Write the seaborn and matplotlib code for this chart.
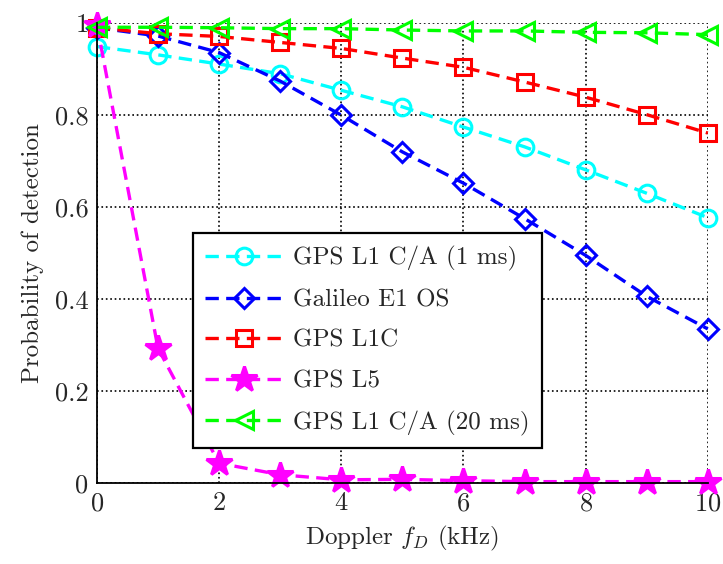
import numpy as np
import pandas as pd
import matplotlib
matplotlib.use("Agg")
import matplotlib.pyplot as plt
import seaborn as sns

doppler = [0, 1, 2, 3, 4, 5, 6, 7, 8, 9, 10]

gps_l1ca_1ms = [0.949, 0.931, 0.911, 0.890, 0.854, 0.818, 0.774, 0.731, 0.681, 0.630, 0.577]
galileo_e1 = [0.990, 0.972, 0.936, 0.874, 0.800, 0.720, 0.652, 0.575, 0.495, 0.406, 0.335]
gps_l1c = [0.990, 0.977, 0.971, 0.958, 0.945, 0.924, 0.904, 0.872, 0.839, 0.801, 0.761]
gps_l5 = [0.997, 0.293, 0.043, 0.018, 0.007, 0.008, 0.005, 0.003, 0.003, 0.003, 0.003]
gps_l1ca_20ms = [0.991, 0.991, 0.990, 0.988, 0.988, 0.985, 0.983, 0.983, 0.980, 0.979, 0.975]

labels = ["GPS L1 C/A (1 ms)", "Galileo E1 OS", "GPS L1C", "GPS L5", "GPS L1 C/A (20 ms)"]
series = [gps_l1ca_1ms, galileo_e1, gps_l1c, gps_l5, gps_l1ca_20ms]
colors = ["#00ffff", "#0000ff", "#ff0000", "#ff00ff", "#00ff00"]
markers = ["o", "D", "s", "*", "<"]
msizes = [12, 10, 12, 19, 13]

sns.set_style("white")
plt.rcParams["font.family"] = ["cmr10", "DejaVu Serif"]
plt.rcParams["mathtext.fontset"] = "cm"
plt.rcParams["axes.formatter.use_mathtext"] = True

fig = plt.figure(figsize=(7.23, 5.64), dpi=100)
ax = fig.add_axes([0.134, 0.1436, 0.845, 0.8154])

for lab, vals, col, mk, ms in zip(labels, series, colors, markers, msizes):
    df = pd.DataFrame({"x": doppler, "y": vals})
    face = col if mk == "*" else "none"
    sns.lineplot(data=df, x="x", y="y", ax=ax, color=col, linestyle=(0, (4, 2.2)),
                 linewidth=2.4, marker=mk, markersize=ms, markerfacecolor=face,
                 markeredgecolor=col, markeredgewidth=2.2, label=lab, clip_on=False)

ax.set_xlim(0, 10)
ax.set_ylim(0, 1)
ax.set_xticks([0, 2, 4, 6, 8, 10])
ax.set_yticks([0, 0.2, 0.4, 0.6, 0.8, 1.0])
ax.set_yticklabels(["0", "0.2", "0.4", "0.6", "0.8", "1"])
ax.grid(True, color="black", linestyle=":", linewidth=1.2)
ax.tick_params(direction="in", labelsize=19, length=4, color="black", pad=6)
for side in ["top", "right"]:
    ax.spines[side].set_visible(False)
for side in ["left", "bottom"]:
    ax.spines[side].set_color("black")
    ax.spines[side].set_linewidth(1.3)

ax.set_xlabel("Doppler $f_D$ (kHz)", fontsize=18, labelpad=6)
ax.set_ylabel("Probability of detection", fontsize=18, labelpad=8)

# legend box placed where the original sits (lower left of centre)
leg = ax.legend(loc="lower left", bbox_to_anchor=(0.157, 0.076), borderaxespad=0,
                fontsize=18, handlelength=3.1, frameon=True, fancybox=False,
                framealpha=1, borderpad=0.5, labelspacing=0.72, handletextpad=0.4)
leg.get_frame().set_edgecolor("black")
leg.get_frame().set_linewidth(1.6)

fig.savefig("out.png", dpi=100)
